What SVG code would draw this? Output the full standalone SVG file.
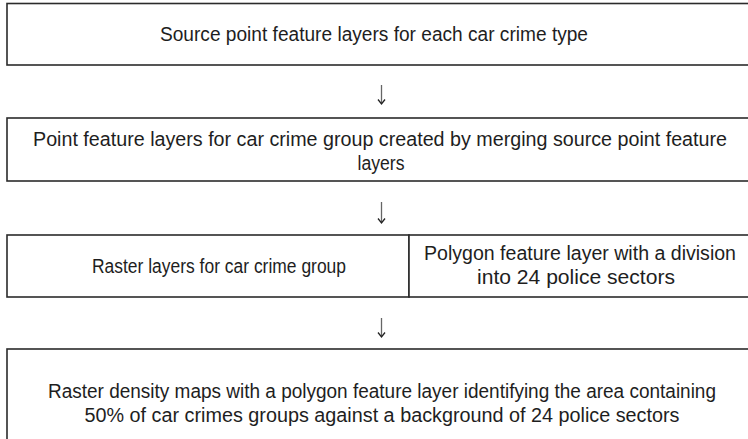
<svg xmlns="http://www.w3.org/2000/svg" width="748" height="439" viewBox="0 0 748 439">
  <style>
    .box { fill: #ffffff; stroke: #2b2b2b; stroke-width: 1.6; }
    .lbl { font-family: "Liberation Sans", Arial, sans-serif; font-size: 19.5px; fill: #1e1e1e; text-anchor: middle; }
    .shaft { stroke: #666666; stroke-width: 1.3; fill: none; }
    .head { stroke: #222222; stroke-width: 1.3; fill: none; }
  </style>
  <rect width="748" height="439" fill="#ffffff"/>

  <g id="source-layers">
    <rect class="box" x="7" y="3.5" width="760" height="61.5"/>
    <text class="lbl" x="374" y="41" textLength="428" lengthAdjust="spacingAndGlyphs">Source point feature layers for each car crime type</text>
  </g>

  <g id="group-layers">
    <rect class="box" x="7" y="118" width="760" height="63"/>
    <text class="lbl" x="380" y="146" textLength="694" lengthAdjust="spacingAndGlyphs">Point feature layers for car crime group created by merging source point feature</text>
    <text class="lbl" x="381" y="170" textLength="47" lengthAdjust="spacingAndGlyphs">layers</text>
  </g>

  <g id="raster-layers">
    <rect class="box" x="7" y="235" width="402" height="62"/>
    <text class="lbl" x="219" y="273" textLength="254" lengthAdjust="spacingAndGlyphs">Raster layers for car crime group</text>
  </g>

  <g id="police-sectors">
    <rect class="box" x="409" y="235" width="358" height="62"/>
    <text class="lbl" x="580" y="260" textLength="312" lengthAdjust="spacingAndGlyphs">Polygon feature layer with a division</text>
    <text class="lbl" x="576" y="284" textLength="198" lengthAdjust="spacingAndGlyphs">into 24 police sectors</text>
  </g>

  <g id="density-maps">
    <rect class="box" x="7" y="349" width="760" height="100"/>
    <text class="lbl" x="382" y="398" textLength="668" lengthAdjust="spacingAndGlyphs">Raster density maps with a polygon feature layer identifying the area containing</text>
    <text class="lbl" x="382" y="422" textLength="595" lengthAdjust="spacingAndGlyphs">50% of car crimes groups against a background of 24 police sectors</text>
  </g>

  <g id="connectors">
    <path class="shaft" d="M381.5 85 V103"/>
    <path class="head" d="M378 99.5 L381.5 104 L385 99.5"/>
    <path class="shaft" d="M381.5 202 V222"/>
    <path class="head" d="M378 218.5 L381.5 223 L385 218.5"/>
    <path class="shaft" d="M381.5 318 V336"/>
    <path class="head" d="M378 332.5 L381.5 337 L385 332.5"/>
  </g>
</svg>
